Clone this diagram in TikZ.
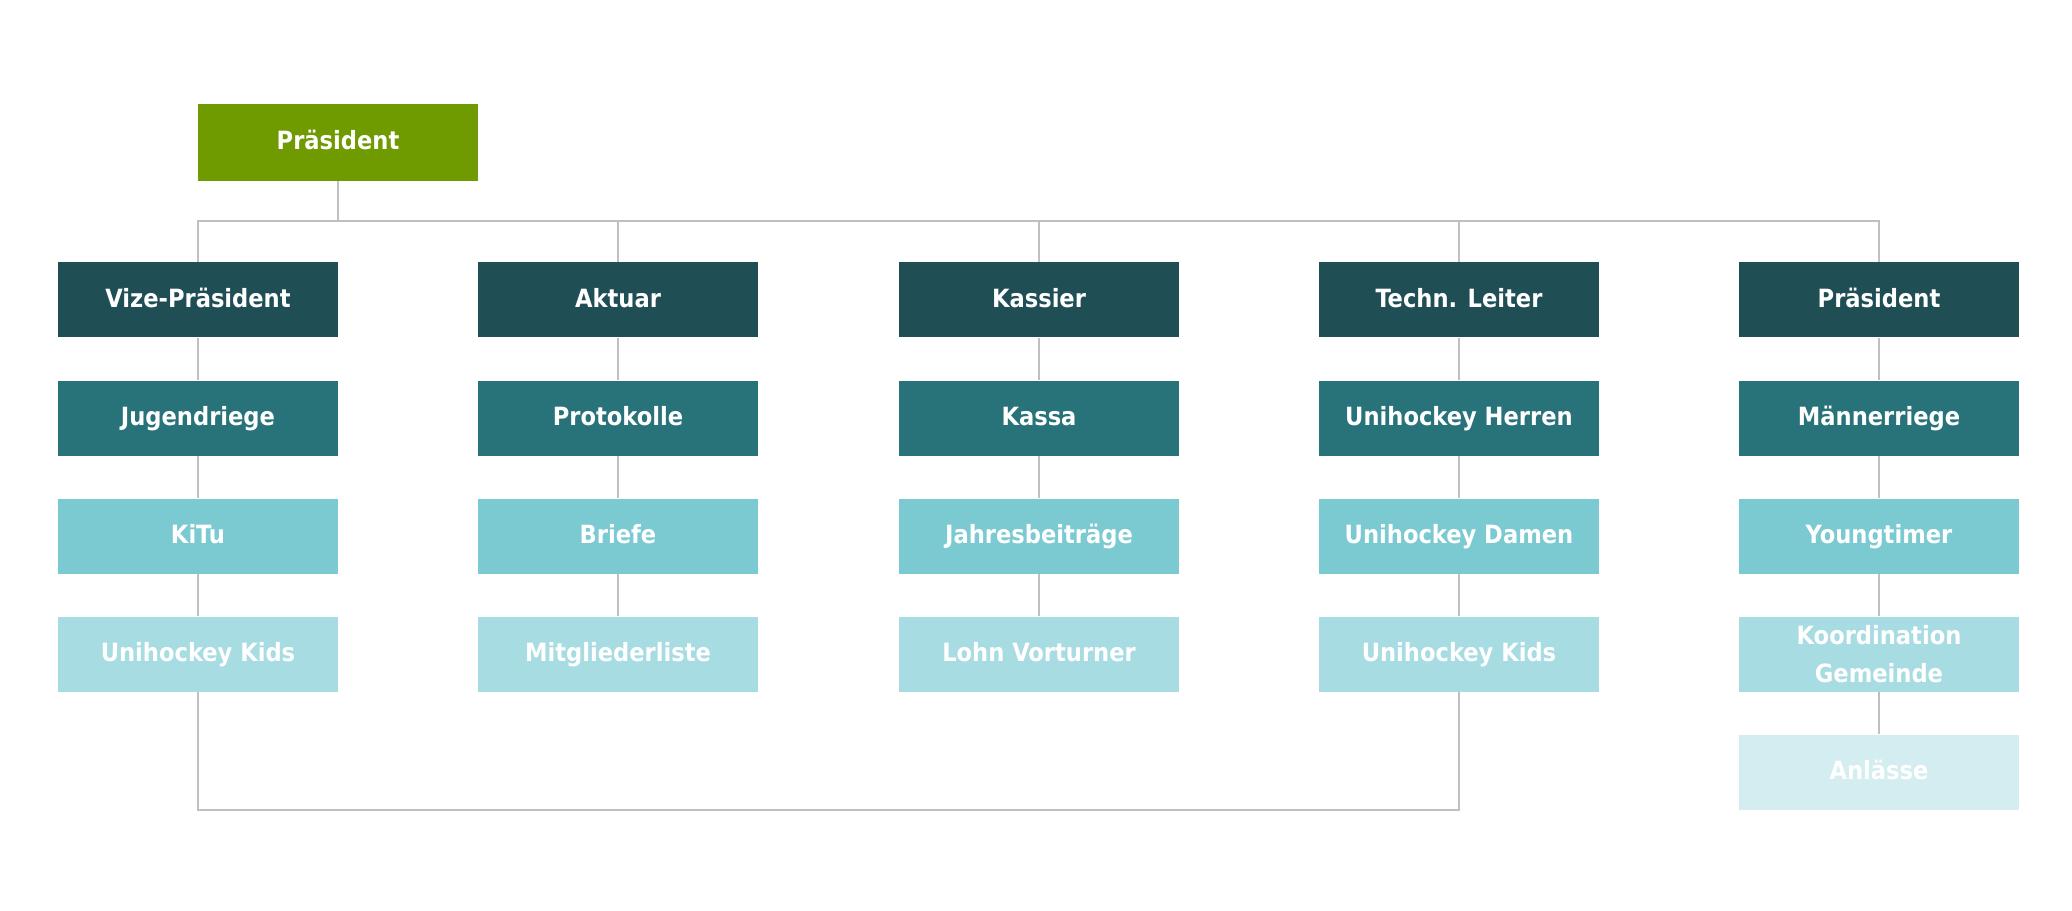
\documentclass[tikz,border=0pt]{standalone}
\usepackage{fontspec}
\setmainfont{DejaVu Sans Condensed}
\usetikzlibrary{positioning,calc}

\definecolor{olive}{HTML}{6F9A00}
\definecolor{tealA}{HTML}{1F4E55}
\definecolor{tealB}{HTML}{28737A}
\definecolor{tealC}{HTML}{7BCAD2}
\definecolor{tealD}{HTML}{A7DCE2}
\definecolor{tealE}{HTML}{D3EDF0}
\definecolor{linegray}{HTML}{C0C0C0}

\begin{document}
\begin{tikzpicture}[
    font=\fontsize{14.3}{22}\selectfont\bfseries,
    box/.style={
        rectangle,
        minimum width=5.6cm,
        minimum height=1.5cm,
        align=center,
        text=white,
        inner sep=0pt,
        text height=2ex,
        text depth=.5ex
    },
    chef/.style={box, fill=olive, minimum height=1.54cm},
    lvla/.style={box, fill=tealA},
    lvlb/.style={box, fill=tealB},
    lvlc/.style={box, fill=tealC},
    lvld/.style={box, fill=tealD},
    lvle/.style={box, fill=tealE},
    twoline/.style={text height={}, text depth={}},
    conn/.style={draw=linegray, line width=0.9pt}
]
\useasboundingbox (0,0) rectangle (41.44,-18.22);

% Praesident oben
\node[chef] (praes) at (6.76,-2.85) {Präsident};

% Spalte 1
\node[lvla] (vize)   at (3.96,-6.00)  {Vize-Präsident};
\node[lvlb] (jugend) at (3.96,-8.36)  {Jugendriege};
\node[lvlc] (kitu)   at (3.96,-10.72) {KiTu};
\node[lvld] (kidsa)  at (3.96,-13.08) {Unihockey Kids};

% Spalte 2
\node[lvla] (aktuar) at (12.36,-6.00)  {Aktuar};
\node[lvlb] (proto)  at (12.36,-8.36)  {Protokolle};
\node[lvlc] (briefe) at (12.36,-10.72) {Briefe};
\node[lvld] (mitgl)  at (12.36,-13.08) {Mitgliederliste};

% Spalte 3
\node[lvla] (kassier) at (20.78,-6.00)  {Kassier};
\node[lvlb] (kassa)   at (20.78,-8.36)  {Kassa};
\node[lvlc] (beitr)   at (20.78,-10.72) {Jahresbeiträge};
\node[lvld] (lohn)    at (20.78,-13.08) {Lohn Vorturner};

% Spalte 4
\node[lvla] (techn)  at (29.18,-6.00)  {Techn. Leiter};
\node[lvlb] (herren) at (29.18,-8.36)  {Unihockey Herren};
\node[lvlc] (damen)  at (29.18,-10.72) {Unihockey Damen};
\node[lvld] (kidsb)  at (29.18,-13.08) {Unihockey Kids};

% Spalte 5
\node[lvla] (praesb)  at (37.58,-6.00)  {Präsident};
\node[lvlb] (maenner) at (37.58,-8.36)  {Männerriege};
\node[lvlc] (young)   at (37.58,-10.72) {Youngtimer};
\node[lvld, twoline] (koord) at (37.58,-13.08) {Koordination\\Gemeinde};
\node[lvle] (anlass)  at (37.58,-15.44) {Anlässe};

% Verbindungen oben
\coordinate (bus) at (0,-4.42);
\draw[conn] (praes.south) -- (praes.south |- bus);
\draw[conn] (vize.north) -- (vize.north |- bus) -- (praesb.north |- bus) -- (praesb.north);
\draw[conn] (aktuar.north) -- (aktuar.north |- bus);
\draw[conn] (kassier.north) -- (kassier.north |- bus);
\draw[conn] (techn.north) -- (techn.north |- bus);

% Spalten
\draw[conn] (vize) -- (jugend) -- (kitu) -- (kidsa);
\draw[conn] (aktuar) -- (proto) -- (briefe) -- (mitgl);
\draw[conn] (kassier) -- (kassa) -- (beitr) -- (lohn);
\draw[conn] (techn) -- (herren) -- (damen) -- (kidsb);
\draw[conn] (praesb) -- (maenner) -- (young) -- (koord) -- (anlass);

% Schleife unten
\coordinate (loop) at (0,-16.20);
\draw[conn] (kidsa.south) -- (kidsa.south |- loop) -- (kidsb.south |- loop) -- (kidsb.south);

\end{tikzpicture}
\end{document}
